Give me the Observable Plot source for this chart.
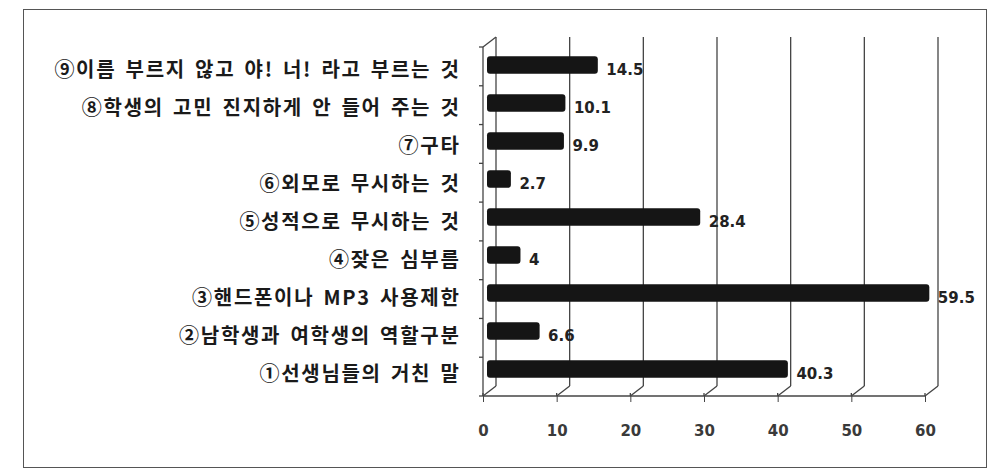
<!DOCTYPE html>
<html><head><meta charset="utf-8">
<script src="https://cdn.jsdelivr.net/npm/d3@7"></script>
<script src="https://cdn.jsdelivr.net/npm/@observablehq/plot@0.6"></script>
<style>
html,body{margin:0;padding:0;background:#fff;}
#wrap{position:relative;width:995px;height:472px;overflow:hidden;}
#box{position:absolute;left:23px;top:9px;width:964px;height:459px;border:1.5px solid #555;box-sizing:border-box;pointer-events:none;}
g[aria-label="y-axis tick label"] text{letter-spacing:1.7px;word-spacing:3px;}
</style></head><body>
<div id="wrap"><div id="box"></div></div>
<script>
const categories = [
  "⑨이름 부르지 않고 야! 너! 라고 부르는 것",
  "⑧학생의 고민 진지하게 안 들어 주는 것",
  "⑦구타",
  "⑥외모로 무시하는 것",
  "⑤성적으로 무시하는 것",
  "④잦은 심부름",
  "③핸드폰이나 MP3 사용제한",
  "②남학생과 여학생의 역할구분",
  "①선생님들의 거친 말"
];
const values = [14.5, 10.1, 9.9, 2.7, 28.4, 4, 59.5, 6.6, 40.3];
const xTicks = [0, 10, 20, 30, 40, 50, 60];

const data = categories.map((c, i) => ({category: c, value: values[i]}));

const depthX = 13, depthY = -10;
function walls(index, scales, vals, dims) {
  const x = scales.x;
  const top = dims.marginTop, bottom = dims.height - dims.marginBottom;
  const x0 = x(xTicks[0]), x1 = x(xTicks[xTicks.length - 1]);
  const g = d3.create("svg:g").attr("fill", "none").attr("stroke", "#444").attr("stroke-width", 1.3);
  for (const t of xTicks) {
    g.append("line").attr("x1", x(t) + depthX).attr("x2", x(t) + depthX).attr("y1", top + depthY).attr("y2", bottom + depthY);
    g.append("line").attr("x1", x(t)).attr("y1", bottom).attr("x2", x(t) + depthX).attr("y2", bottom + depthY);
    g.append("line").attr("x1", x(t)).attr("x2", x(t)).attr("y1", bottom - 3).attr("y2", bottom);
  }
  g.append("line").attr("x1", x0).attr("x2", x1).attr("y1", bottom).attr("y2", bottom);
  g.append("line").attr("x1", x0).attr("x2", x0).attr("y1", top).attr("y2", bottom);
  g.append("line").attr("x1", x0).attr("y1", top).attr("x2", x0 + depthX).attr("y2", top + depthY);
  const n = categories.length;
  for (let i = 0; i <= n; i++) {
    const yy = top + i * (bottom - top) / n;
    g.append("line").attr("x1", x0 - 4).attr("x2", x0).attr("y1", yy).attr("y2", yy);
  }
  return g.node();
}

const chart = Plot.plot({
  width: 995,
  height: 472,
  marginLeft: 483,
  marginRight: 70,
  marginTop: 47,
  marginBottom: 76,
  style: {background: "transparent", fontFamily: "'DejaVu Sans', sans-serif"},
  x: {domain: [0, 60], ticks: xTicks},
  y: {domain: categories, padding: 0},
  marks: [
    walls,
    Plot.barX(data, {x: "value", y: "category", fill: "#151515", insetTop: 10.2, insetBottom: 10.2, insetLeft: -4, dx: 8, dy: -5, rx: 3}),
    Plot.text(data, {x: "value", y: "category", text: d => String(d.value), textAnchor: "start", dx: 16, dy: 0, fontSize: 15, fontWeight: "bold", fill: "#222", fontFamily: "'DejaVu Sans', sans-serif"}),
    Plot.axisX(xTicks, {tickSize: 6, tickPadding: 23, fontSize: 15, fontWeight: "bold", fill: "#3a3a3a", stroke: "#444", label: null}),
    Plot.axisY({tickSize: 0, tickPadding: 23, fontSize: 20, fontWeight: "bold", fill: "#1a1a1a", fontFamily: "'Noto Sans CJK KR', sans-serif", label: null})
  ]
});
document.getElementById("wrap").prepend(chart);
</script>
</body></html>
